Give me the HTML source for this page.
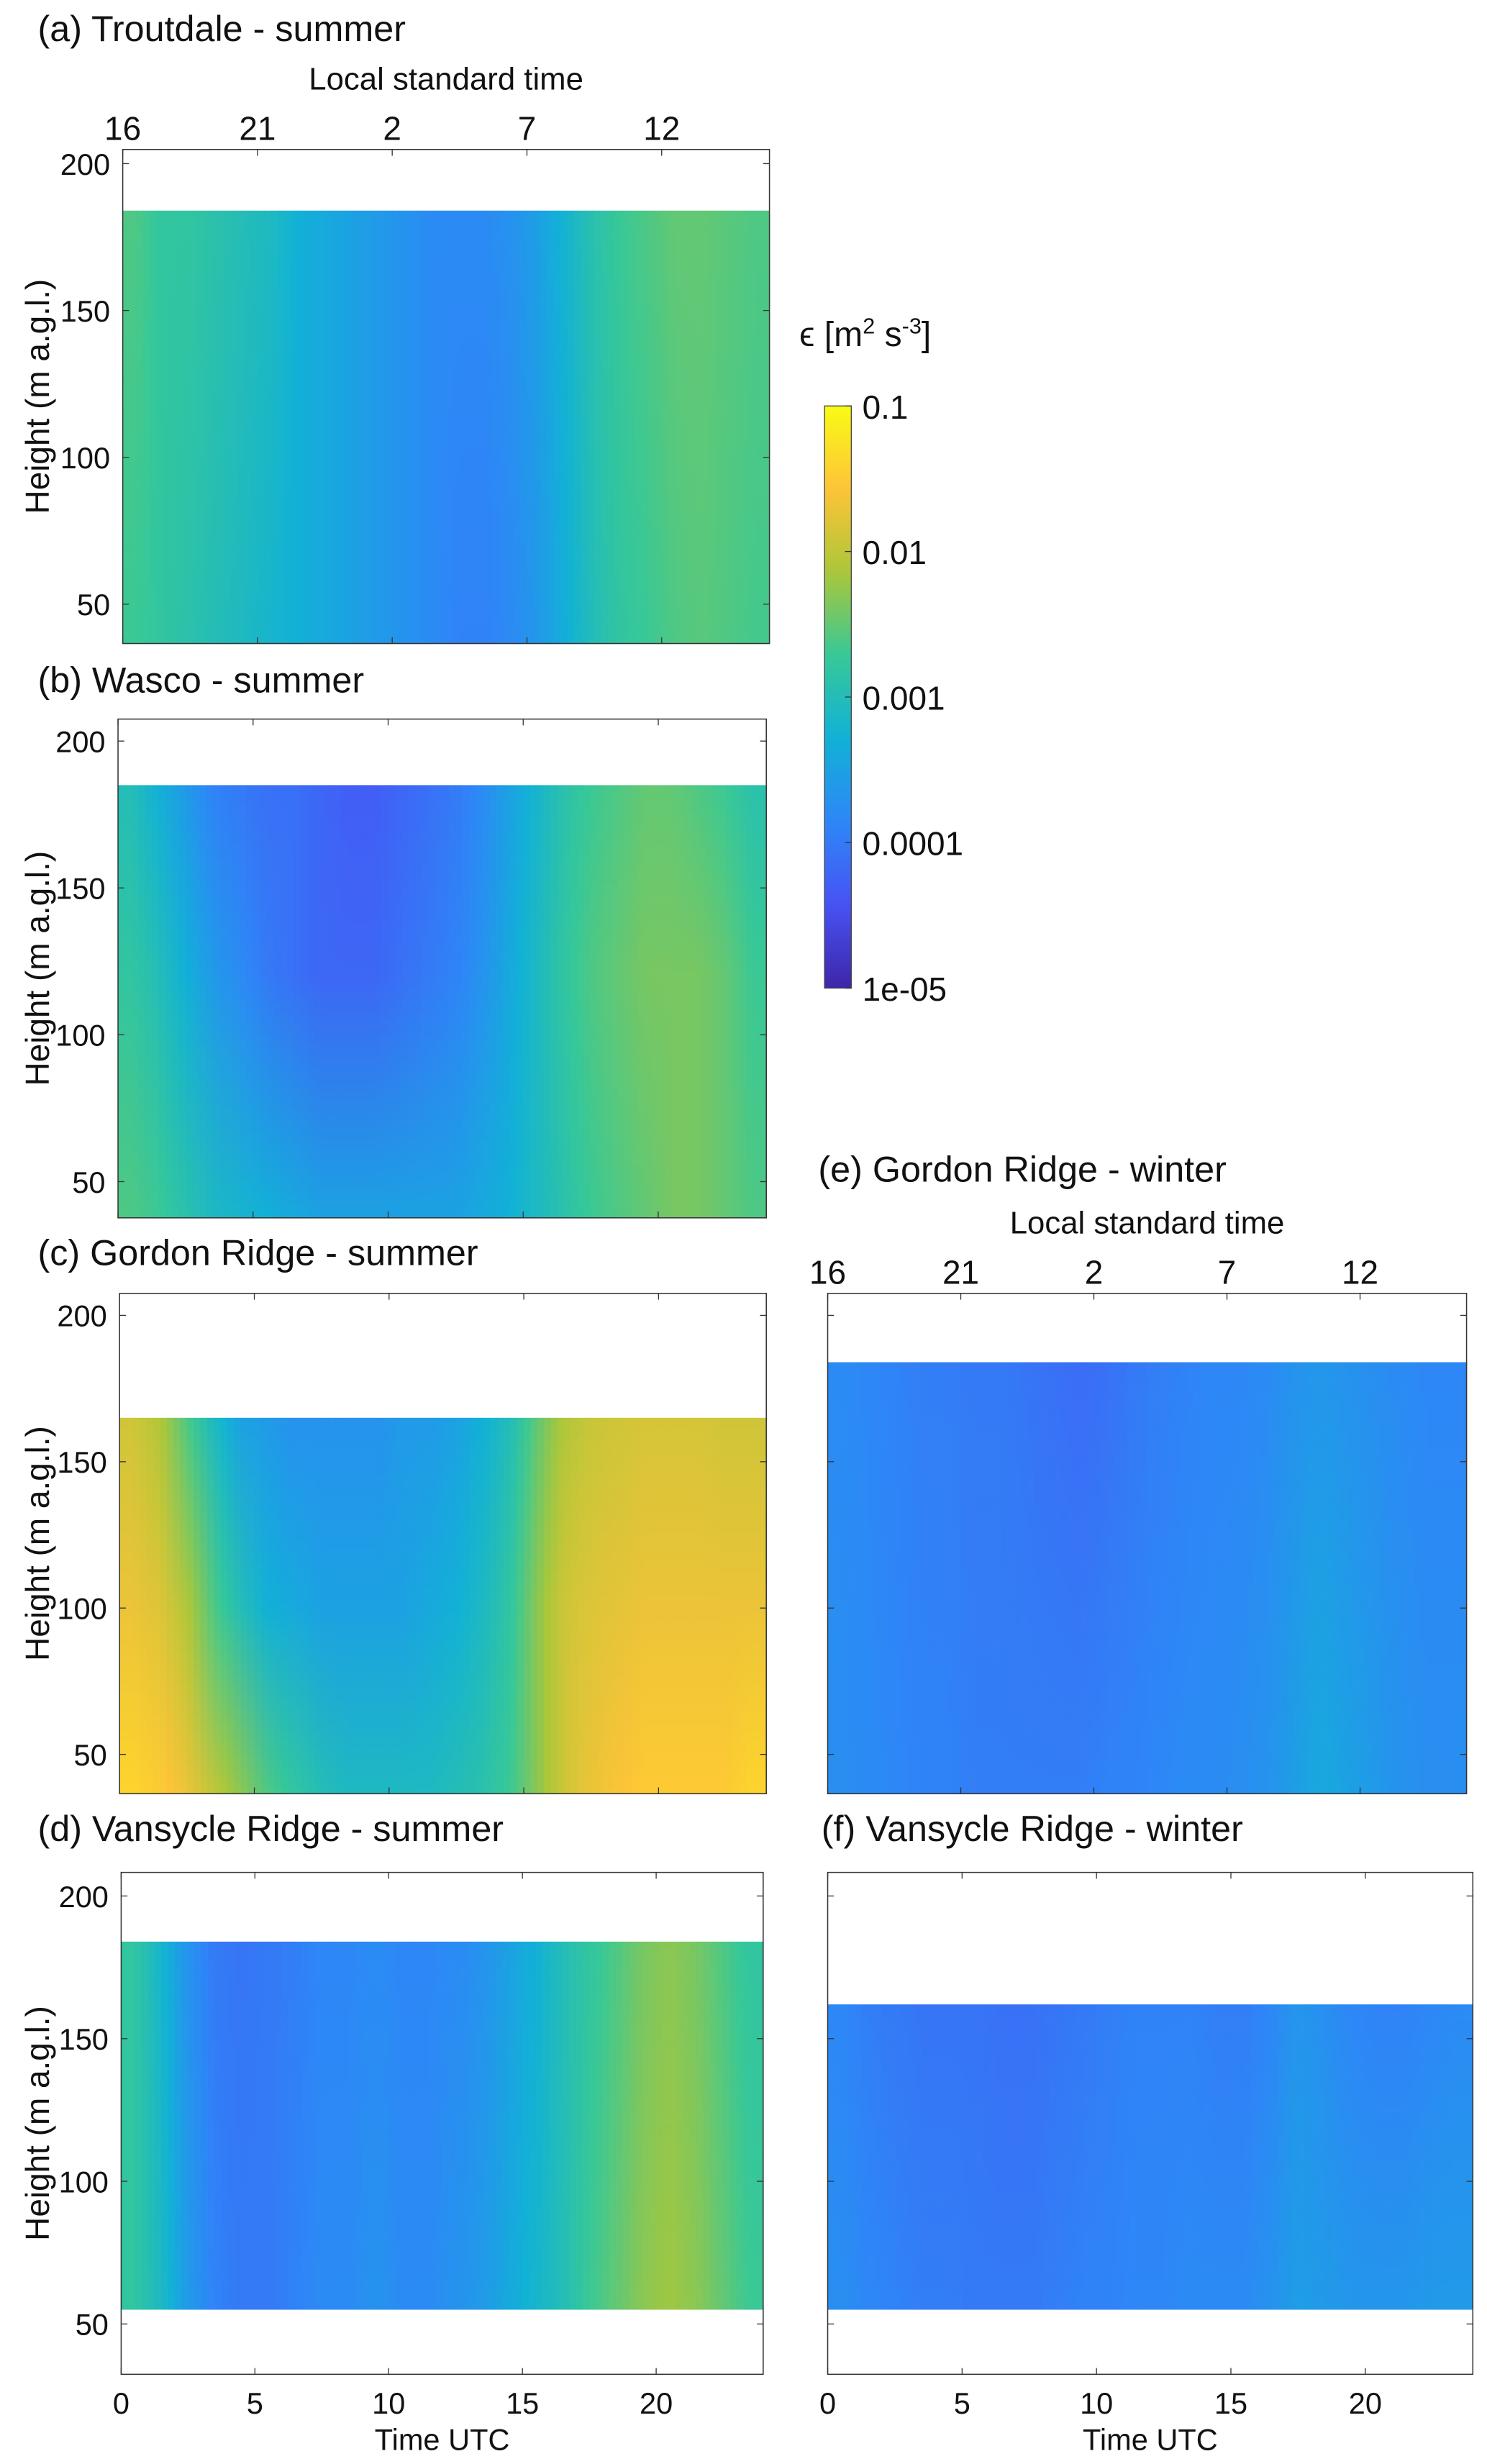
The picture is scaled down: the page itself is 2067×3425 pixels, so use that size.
<!DOCTYPE html>
<html><head><meta charset="utf-8"><style>
html,body{margin:0;padding:0;background:#fff}
svg{display:block}
text{font-family:"Liberation Sans",sans-serif;fill:#111}
</style></head><body>
<svg id="fig" width="2067" height="3425" viewBox="0 0 945 1566" preserveAspectRatio="none" xmlns="http://www.w3.org/2000/svg">
<defs id="defs"></defs>
<g id="layer"></g>
</svg>
<script>
// ---- data (log10 epsilon, hourly UTC 0..23) ----
const hours = [0,1,2,3,4,5,6,7,8,9,10,11,12,13,14,15,16,17,18,19,20,21,22,23];
const xTickUTC = [0,5,10,15,20];
const xTickLocal = ["16","21","2","7","12"];
const yTicks = [50,100,150,200];
const cbTicks = [-1,-2,-3,-4,-5];
const cbLabels = ["0.1","0.01","0.001","0.0001","1e-05"];

const aHeights = [36,184];
const aLow  = [-2.7,-2.8,-2.9,-3.0,-3.1,-3.2,-3.3,-3.4,-3.5,-3.6,-3.7,-3.8,-3.9,-3.9,-3.8,-3.6,-3.3,-3.0,-2.8,-2.7,-2.6,-2.55,-2.6,-2.65];
const aHigh = [-2.6,-2.8,-2.8,-2.9,-3.0,-3.1,-3.3,-3.4,-3.5,-3.6,-3.7,-3.8,-3.8,-3.8,-3.7,-3.5,-3.2,-2.9,-2.7,-2.6,-2.5,-2.5,-2.55,-2.6];

const bHeights = [36,120,185];
const bLow  = [-2.6,-2.7,-2.9,-3.1,-3.2,-3.3,-3.4,-3.5,-3.5,-3.5,-3.5,-3.5,-3.5,-3.4,-3.3,-3.1,-2.9,-2.7,-2.6,-2.5,-2.4,-2.4,-2.5,-2.6];
const bMid  = [-2.8,-3.0,-3.3,-3.6,-3.8,-4.0,-4.1,-4.2,-4.2,-4.2,-4.1,-4.0,-3.9,-3.7,-3.4,-3.1,-2.8,-2.6,-2.5,-2.4,-2.4,-2.4,-2.5,-2.7];
const bHigh = [-3.0,-3.3,-3.6,-3.9,-4.0,-4.1,-4.1,-4.2,-4.3,-4.3,-4.2,-4.1,-4.0,-3.8,-3.5,-3.2,-2.9,-2.7,-2.6,-2.5,-2.5,-2.6,-2.7,-2.9];

const cHeights = [36,100,165];
const cLow  = [-1.4,-1.5,-1.7,-2.0,-2.3,-2.6,-2.8,-3.0,-3.1,-3.1,-3.1,-3.1,-3.0,-2.9,-2.7,-2.3,-1.9,-1.7,-1.6,-1.5,-1.5,-1.5,-1.5,-1.4];
const cMid  = [-1.7,-1.8,-2.1,-2.6,-3.0,-3.3,-3.4,-3.5,-3.5,-3.5,-3.5,-3.4,-3.3,-3.1,-2.8,-2.3,-1.9,-1.8,-1.75,-1.7,-1.7,-1.7,-1.7,-1.7];
const cHigh = [-1.9,-2.1,-2.6,-3.1,-3.5,-3.6,-3.7,-3.7,-3.7,-3.7,-3.6,-3.6,-3.5,-3.3,-3.0,-2.5,-2.1,-1.95,-1.9,-1.85,-1.85,-1.85,-1.9,-1.9];

const dHeights = [55,184];
const dLow  = [-2.8,-3.1,-3.6,-3.9,-4.0,-4.0,-3.9,-3.8,-3.8,-3.7,-3.8,-3.8,-3.7,-3.6,-3.4,-3.2,-3.0,-2.7,-2.5,-2.3,-2.2,-2.3,-2.5,-2.7];
const dHigh = [-2.8,-3.2,-3.7,-4.0,-4.05,-4.0,-3.95,-3.85,-3.85,-3.8,-3.85,-3.85,-3.8,-3.7,-3.5,-3.3,-3.0,-2.8,-2.6,-2.4,-2.3,-2.4,-2.6,-2.8];

const eHeights = [36,184];
const eLow  = [-3.75,-3.8,-3.85,-3.9,-3.9,-3.95,-3.95,-3.95,-3.95,-3.95,-3.9,-3.9,-3.85,-3.8,-3.8,-3.75,-3.7,-3.55,-3.4,-3.5,-3.6,-3.7,-3.75,-3.75];
const eHigh = [-3.8,-3.85,-3.9,-3.95,-3.95,-4.0,-4.0,-4.05,-4.1,-4.15,-4.1,-4.0,-3.95,-3.9,-3.85,-3.85,-3.8,-3.7,-3.65,-3.7,-3.75,-3.8,-3.85,-3.85];

const fHeights = [55,162];
const fLow  = [-3.75,-3.85,-3.9,-3.95,-3.95,-4.0,-4.0,-4.0,-3.95,-3.9,-3.9,-3.85,-3.85,-3.8,-3.8,-3.8,-3.7,-3.55,-3.6,-3.65,-3.65,-3.65,-3.6,-3.6];
const fHigh = [-3.85,-3.95,-4.0,-4.05,-4.05,-4.05,-4.1,-4.1,-4.05,-4.0,-3.95,-3.9,-3.9,-3.9,-3.95,-3.95,-3.85,-3.65,-3.75,-3.85,-3.9,-3.9,-3.85,-3.8];

// ---- rendering ----
const NS = "http://www.w3.org/2000/svg";
const layer = document.getElementById('layer');
const defs = document.getElementById('defs');
function el(tag, attrs, parent){const e=document.createElementNS(NS,tag);for(const k in attrs)e.setAttribute(k,attrs[k]);(parent||layer).appendChild(e);return e;}

const parula = [[0.2422,0.1504,0.6603],[0.2810,0.3228,0.9579],[0.1786,0.5289,0.9682],[0.0689,0.6948,0.8394],[0.2161,0.7843,0.5923],[0.6720,0.7793,0.2227],[0.9970,0.7659,0.2199],[0.9769,0.9839,0.0805]];
function cmap(lg){let t=Math.max(0,Math.min(1,(lg+5)/4))*(parula.length-1);const i=Math.min(parula.length-2,Math.floor(t));const f=t-i;const c=parula[i].map((v,k)=>Math.round(255*(v+(parula[i+1][k]-v)*f)));return `rgb(${c[0]},${c[1]},${c[2]})`;}

let gid=0;
function panel(p){
  const g = el('g',{});
  
  
  const yS = v => p.y200 + (200-v)*(p.y50-p.y200)/150;
  const xS = h => p.x0 + h*(p.x1-p.x0)/24;
  const yBot = p.y1;
  const hm = el('g',{},g);
  
  
  const sub=4;
  const topY = yS(p.heights[p.heights.length-1]);
  const botY = Math.min(yBot, yS(p.heights[0]));
  for(let i=0;i<hours.length;i++){
    for(let s=0;s<sub;s++){
      const frac=(s+0.5)/sub-0.5;
      const j = frac<0 ? (i-1+hours.length)%hours.length : (i+1)%hours.length;
      const w = Math.abs(frac);
      const wrapEdge = (frac<0 && i===0) || (frac>0 && i===hours.length-1);
      const gradId='g'+(gid++);
      const lg = el('linearGradient',{id:gradId,x1:0,y1:0,x2:0,y2:1},defs);
      const hTop=p.heights[p.heights.length-1], hBot=p.heights[0];
      for(let r=p.rows.length-1;r>=0;r--){
        const vi=p.rows[r][i], vj=p.rows[r][j];
        const v = wrapEdge? vi : vi+(vj-vi)*w;
        const off=(hTop-p.heights[r])/(hTop-hBot);
        el('stop',{offset:off,'stop-color':cmap(v)},lg);
      }
      const x = xS(hours[i]+s/sub);
      const r = el('rect',{x:x,y:topY,width:(p.x1-p.x0)/24/sub+0.3,height:botY-topY,fill:`url(#${gradId})`},hm);
      
      
    }
  }
  const fr = el('rect',{x:p.x0,y:p.y0,width:p.x1-p.x0,height:p.y1-p.y0,fill:'none',stroke:'#333','stroke-width':0.7},g);
  
  
  yTicks.forEach(v=>{
    const y=yS(v);
    el('line',{x1:p.x0,x2:p.x0+4,y1:y,y2:y,stroke:'#333','stroke-width':0.6},g);
    el('line',{x1:p.x1,x2:p.x1-4,y1:y,y2:y,stroke:'#333','stroke-width':0.6},g);
    if(p.yLabels){const t=el('text',{x:p.x0-8,y:y+7,'text-anchor':'end','font-size':19,fill:'#222'},g);t.textContent=v;
      
      }
  });
  xTickUTC.forEach((v,k)=>{
    const x=xS(v);
    el('line',{x1:x,x2:x,y1:p.y0,y2:p.y0+4,stroke:'#333','stroke-width':0.6},g);
    el('line',{x1:x,x2:x,y1:p.y1,y2:p.y1-4,stroke:'#333','stroke-width':0.6},g);
    if(p.bottom){const t=el('text',{x:x,y:p.y1+25,'text-anchor':'middle','font-size':19,fill:'#222'},g);t.textContent=v;
      
      }
    if(p.top){const t=el('text',{x:x,y:p.y0-6,'text-anchor':'middle','font-size':21,fill:'#111'},g);t.textContent=xTickLocal[k];
      
      }
  });
  if(p.top){const t=el('text',{x:(p.x0+p.x1)/2,y:p.y0-38,'text-anchor':'middle','font-size':20},g);t.textContent='Local standard time';
    
    }
  if(p.bottom){const t=el('text',{x:(p.x0+p.x1)/2,y:p.y1+48,'text-anchor':'middle','font-size':19,fill:'#222'},g);t.textContent='Time UTC';
    
    }
  if(p.yLabels){const cy=(p.y0+p.y1)/2;const t=el('text',{x:0,y:0,transform:`translate(31,${cy}) rotate(-90)`,'text-anchor':'middle','font-size':21},g);t.textContent='Height (m a.g.l.)';
    
    }
  const tt=el('text',{x:p.tx,y:p.ty,'font-size':23},g);tt.textContent=p.title;
  
  
}

panel({id:'a',x0:78,x1:489,y0:95,y1:409,y200:104,y50:384,heights:aHeights,rows:[aLow,aHigh],yLabels:true,top:true,title:'(a)  Troutdale - summer',tx:24,ty:26});
panel({id:'b',x0:75,x1:487,y0:457,y1:774,y200:471,y50:751,heights:bHeights,rows:[bLow,bMid,bHigh],yLabels:true,title:'(b)  Wasco - summer',tx:24,ty:440});
panel({id:'c',x0:76,x1:487,y0:822,y1:1140,y200:836,y50:1115,heights:cHeights,rows:[cLow,cMid,cHigh],yLabels:true,title:'(c)  Gordon Ridge - summer',tx:24,ty:804});
panel({id:'d',x0:77,x1:485,y0:1190,y1:1509,y200:1205,y50:1477,heights:dHeights,rows:[dLow,dHigh],yLabels:true,bottom:true,title:'(d)  Vansycle Ridge - summer',tx:24,ty:1170});
panel({id:'e',x0:526,x1:932,y0:822,y1:1140,y200:836,y50:1115,heights:eHeights,rows:[eLow,eHigh],top:true,title:'(e)  Gordon Ridge - winter',tx:520,ty:751});
panel({id:'f',x0:526,x1:936,y0:1190,y1:1509,y200:1205,y50:1477,heights:fHeights,rows:[fLow,fHigh],bottom:true,title:'(f)  Vansycle Ridge - winter',tx:522,ty:1170});

const cbx0=524,cbx1=541,cby0=258,cby1=628;
const cbg=el('g',{});


const cg=el('linearGradient',{id:'cbgrad',x1:0,y1:1,x2:0,y2:0},defs);
for(let k=0;k<=40;k++){el('stop',{offset:k/40,'stop-color':cmap(-5+4*k/40)},cg);}
el('rect',{x:cbx0,y:cby0,width:cbx1-cbx0,height:cby1-cby0,fill:'url(#cbgrad)',stroke:'#444','stroke-width':0.6},cbg);
const cbY = v => cby0 + (-1-v)*(cby1-cby0)/4;
cbTicks.forEach((v,k)=>{
  const y=cbY(v);
  el('line',{x1:cbx1-4,x2:cbx1,y1:y,y2:y,stroke:'#333','stroke-width':0.6},cbg);
  const t=el('text',{x:548,y:y+8,'font-size':21,fill:'#222'},cbg);t.textContent=cbLabels[k];
  
  
});
const ct=el('text',{x:508,y:220,'font-size':22},cbg);
ct.innerHTML='ϵ  [m<tspan dy="-8" font-size="14">2</tspan><tspan dy="8"> s</tspan><tspan dy="-8" font-size="14">-3</tspan><tspan dy="8">]</tspan>';


</script>
</body></html>
